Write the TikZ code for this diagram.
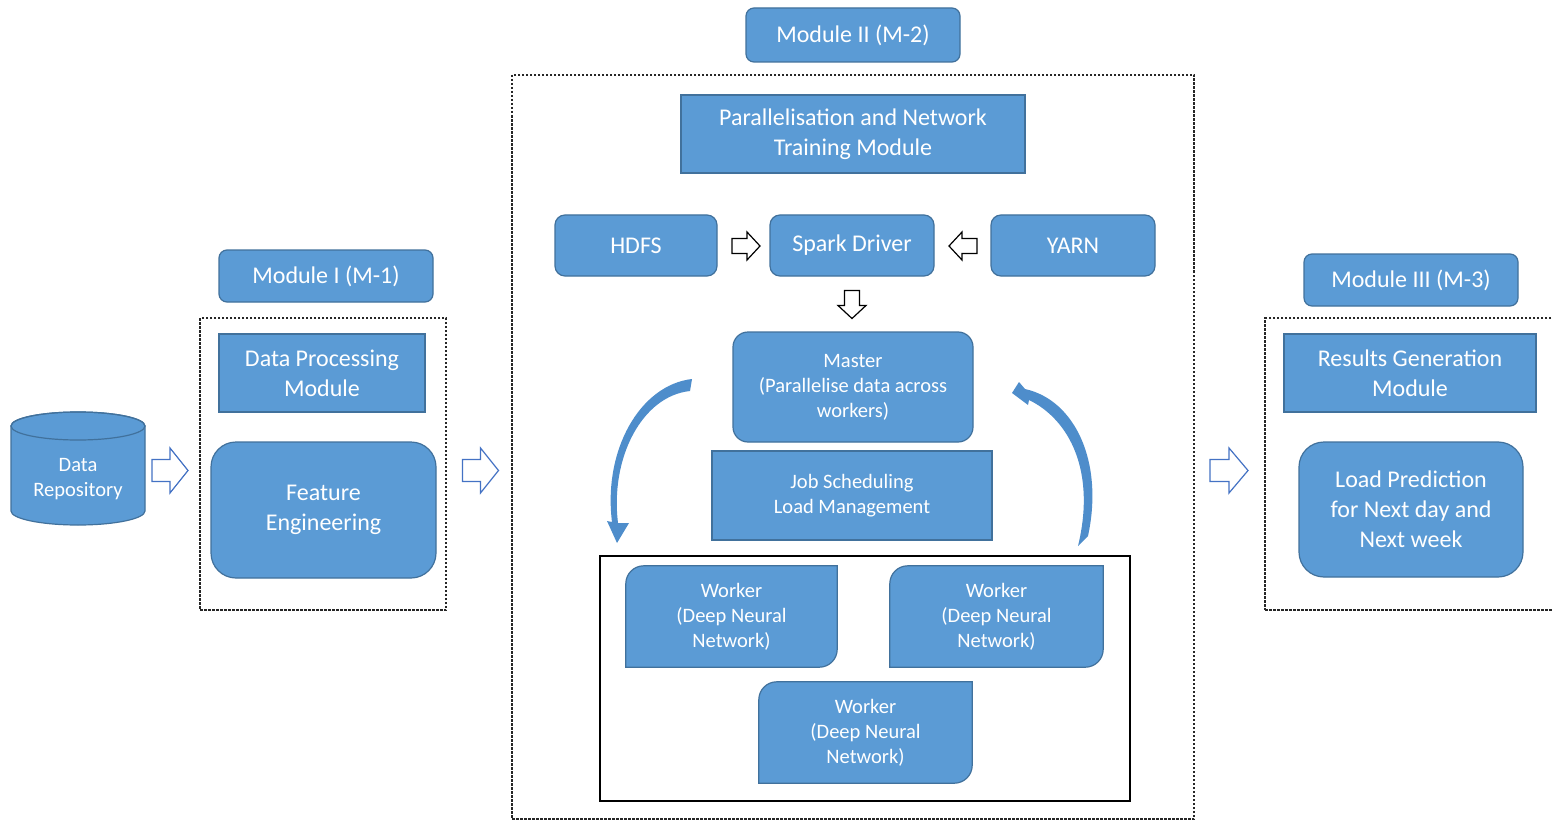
\documentclass[tikz,border=0pt]{standalone}
\usepackage{fontspec}
\setmainfont{Carlito}
\usetikzlibrary{calc,backgrounds}
\definecolor{boxblue}{HTML}{5B9BD5}
\definecolor{boxedge}{HTML}{41719C}
\definecolor{hollowblue}{HTML}{4472C4}
\definecolor{curveblue}{HTML}{4E8DCB}
\begin{document}
\begin{tikzpicture}[x=1pt,y=-1pt,
  bluebox/.style={fill=boxblue, draw=boxedge, line width=1.2pt, text=white, align=center, inner sep=0pt},
  bigtext/.style={font=\fontsize{24}{30}\selectfont},
  smalltext/.style={font=\fontsize{20.5}{25}\selectfont},
  dashframe/.style={draw=black!85, dash pattern=on 2.5pt off 1.5pt, line width=1.2pt, inner sep=0pt},
  hollowarrow/.style={draw=hollowblue, fill=white, line width=1.2pt, line join=miter},
  blackarrow/.style={draw=black, fill=white, line width=1.2pt, line join=miter},
  workertext/.style={text=white, align=center, inner sep=0pt, smalltext},
  workershape/.style={fill=boxblue, draw=boxedge, line width=1.2pt}
]
\useasboundingbox (0,0) rectangle (1552,821);

% ---------- Module I ----------
\node[bluebox, bigtext, rounded corners=8pt, minimum width=214pt, minimum height=52pt] (m1) at (326,276) {Module I (M-1)};
\node[dashframe, minimum width=246pt, minimum height=292pt] (frame1) at (323,464) {};
\node[bluebox, bigtext, minimum width=206pt, minimum height=78pt] (dp) at (322,373) {Data Processing\\Module};
\node[bluebox, bigtext, rounded corners=25pt, minimum width=225pt, minimum height=136pt] (fe) at (323.5,510) {Feature\\Engineering};

% ---------- data store ----------
\fill[boxblue, draw=boxedge, line width=1.2pt] (11,426) -- (11,511)
  arc[start angle=180, end angle=0, x radius=67, y radius=14] -- (145,426)
  arc[start angle=0, end angle=-180, x radius=67, y radius=14] -- cycle;
\draw[boxedge, line width=1.2pt] (78,426) ellipse[x radius=67, y radius=14];
\node[workertext] (repo) at (78,479) {Data\\Repository};

% ---------- Module II ----------
\node[bluebox, bigtext, rounded corners=8pt, minimum width=214pt, minimum height=54pt] (m2) at (853,35) {Module II (M-2)};
\node[dashframe, minimum width=682pt, minimum height=744pt] (frame2) at (853,447) {};
\node[bluebox, bigtext, minimum width=344pt, minimum height=78pt] (par) at (853,134) {Parallelisation and Network\\Training Module};
\node[bluebox, bigtext, rounded corners=10pt, minimum width=162pt, minimum height=61pt] (hdfs) at (636,245.5) {HDFS};
\node[bluebox, bigtext, rounded corners=10pt, minimum width=164pt, minimum height=61pt] (spark) at (852,245.5) {Spark Driver};
\node[bluebox, bigtext, rounded corners=10pt, minimum width=164pt, minimum height=61pt] (yarn) at (1073,245.5) {YARN};

% small outlined block arrows around the driver
\begin{scope}[shift={(746,246)}]
  \draw[blackarrow] (-14,-7.5) -- (1,-7.5) -- (1,-14) -- (14,0) -- (1,14) -- (1,7.5) -- (-14,7.5) -- cycle;
\end{scope}
\begin{scope}[shift={(963,246)}, rotate=180]
  \draw[blackarrow] (-14,-7.5) -- (1,-7.5) -- (1,-14) -- (14,0) -- (1,14) -- (1,7.5) -- (-14,7.5) -- cycle;
\end{scope}
\begin{scope}[shift={(852,304.5)}, rotate=-90]
  \draw[blackarrow] (-14,-7.5) -- (1,-7.5) -- (1,-14) -- (14,0) -- (1,14) -- (1,7.5) -- (-14,7.5) -- cycle;
\end{scope}

\node[bluebox, smalltext, rounded corners=15pt, minimum width=240pt, minimum height=110pt] (master) at (853,387) {Master\\(Parallelise data across\\workers)};
\node[bluebox, smalltext, minimum width=280pt, minimum height=89pt] (job) at (852,495.5) {Job Scheduling\\Load Management};
\node[draw=black, line width=1.8pt, minimum width=530pt, minimum height=245pt, inner sep=0pt] (wbox) at (865,678.5) {};
\node[workertext, minimum width=211pt, minimum height=101pt] (w1) at (731.5,616.5) {Worker\\(Deep Neural\\Network)};
\node[workertext, minimum width=213pt, minimum height=101pt] (w2) at (996.5,616.5) {Worker\\(Deep Neural\\Network)};
\node[workertext, minimum width=213pt, minimum height=101pt] (w3) at (865.5,732.5) {Worker\\(Deep Neural\\Network)};
\begin{pgfonlayer}{background}
  \fill[white] (0,0) rectangle (1552,821);
  % worker boxes: top-left and bottom-right corners rounded
  \foreach \w in {w1,w2,w3}{
    \draw[workershape] ($(\w.north west)+(0,18)$)
      .. controls ($(\w.north west)+(0,8)$) and ($(\w.north west)+(8,0)$) .. ($(\w.north west)+(18,0)$)
      -- (\w.north east) -- ($(\w.south east)+(0,-18)$)
      .. controls ($(\w.south east)+(0,-8)$) and ($(\w.south east)+(-8,0)$) .. ($(\w.south east)+(-18,0)$)
      -- (\w.south west) -- cycle;
  }
\end{pgfonlayer}

% curved ribbon arrows between master and workers
\fill[curveblue] (692,379) .. controls (640,385) and (603,450) .. (612,522)
  -- (607,521) -- (617,543) -- (629,523) -- (618,523)
  .. controls (610,458) and (642,396) .. (690,391) -- cycle;
\fill[curveblue] (1012,393) -- (1019,382) -- (1025,389)
  .. controls (1075,400) and (1104,462) .. (1088,536) -- (1078,546)
  .. controls (1096,472) and (1070,420) .. (1029,400) -- (1028,405) -- cycle;

% ---------- Module III ----------
\node[bluebox, bigtext, rounded corners=8pt, minimum width=214pt, minimum height=52pt] (m3) at (1411,280) {Module III (M-3)};
\node[dashframe, minimum width=291pt, minimum height=292pt] (frame3) at (1410.5,464) {};
\node[bluebox, bigtext, minimum width=252pt, minimum height=78pt] (rg) at (1410,373) {Results Generation\\Module};
\node[bluebox, bigtext, rounded corners=25pt, minimum width=224pt, minimum height=135pt] (lp) at (1411,509.5) {Load Prediction\\for Next day and\\Next week};

% ---------- flow arrows between modules ----------
\foreach \cx/\len in {170/18, 480.5/18, 1229/19}{
  \begin{scope}[shift={(\cx,470.5)}]
    \draw[hollowarrow] (-\len,-11) -- (0,-11) -- (0,-22.5) -- (\len,0) -- (0,22.5) -- (0,11) -- (-\len,11) -- cycle;
  \end{scope}
}
\end{tikzpicture}
\end{document}
